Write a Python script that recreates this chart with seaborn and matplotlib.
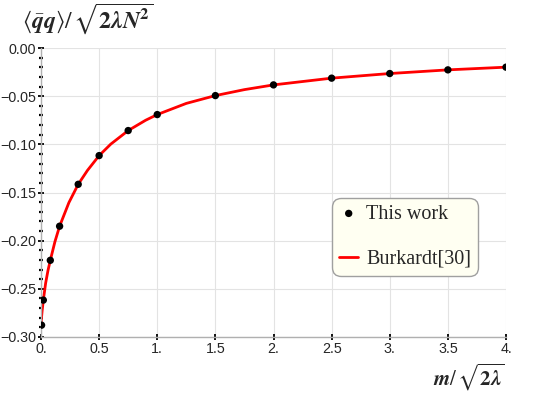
import numpy as np
import pandas as pd
import matplotlib
matplotlib.use("Agg")
import matplotlib.pyplot as plt
import seaborn as sns
from matplotlib.ticker import MultipleLocator

sns.set_style("white")
plt.rcParams['font.family'] = ['Liberation Sans', 'DejaVu Sans']
plt.rcParams['mathtext.fontset'] = 'stix'

# data points (This work)
m_pts = [0.005, 0.02, 0.08, 0.16, 0.32, 0.5, 0.75, 1.0, 1.5, 2.0, 2.5, 3.0, 3.5, 4.0]
qq_pts = [-0.2877, -0.2617, -0.2204, -0.1850, -0.1415, -0.1117, -0.0857, -0.0691,
          -0.0494, -0.0383, -0.0313, -0.0265, -0.0227, -0.0199]

# Burkardt curve
m_curve = [0.0, 0.002, 0.005, 0.01, 0.02, 0.04, 0.06, 0.08, 0.12, 0.16, 0.24, 0.32, 0.4,
           0.5, 0.6, 0.75, 0.9, 1.0, 1.25, 1.5, 1.75, 2.0, 2.5, 3.0, 3.5, 4.0]
qq_curve = [-0.2887, -0.2835, -0.2790, -0.2725, -0.2617, -0.2440, -0.2310, -0.2204, -0.2010,
            -0.1850, -0.1605, -0.1415, -0.1270, -0.1117, -0.0998, -0.0857, -0.0750, -0.0691,
            -0.0575, -0.0494, -0.0432, -0.0383, -0.0313, -0.0265, -0.0227, -0.0199]

xticks = [0, 0.5, 1, 1.5, 2, 2.5, 3, 3.5, 4]
xlabels = ['0.', '0.5', '1.', '1.5', '2.', '2.5', '3.', '3.5', '4.']
yticks = [-0.30, -0.25, -0.20, -0.15, -0.10, -0.05, 0.00]
ylabels = ['\u22120.30', '\u22120.25', '\u22120.20', '\u22120.15', '\u22120.10', '\u22120.05', '0.00']

pts = pd.DataFrame({'m': m_pts, 'qq': qq_pts})
crv = pd.DataFrame({'m': m_curve, 'qq': qq_curve})

fig = plt.figure(figsize=(5.4, 3.96), dpi=100)
ax = fig.add_axes([41/540, 1-337/396, 465/540, 289/396])

sns.lineplot(data=crv, x='m', y='qq', ax=ax, color='red', lw=2, label='Burkardt[30]', zorder=2)
sns.scatterplot(data=pts, x='m', y='qq', ax=ax, color='black', s=28, edgecolor='none',
                label='This work', zorder=3)

ax.set_xlim(0, 4)
ax.set_ylim(-0.30, 0.0)
ax.set_xticks(xticks)
ax.set_xticklabels(xlabels)
ax.set_yticks(yticks)
ax.set_yticklabels(ylabels)
ax.yaxis.set_minor_locator(MultipleLocator(0.01))
ax.grid(True, color='#e3e3e3', lw=0.8)
ax.set_axisbelow(True)
ax.set_xlabel('')
ax.set_ylabel('')

for s in ['top', 'right']:
    ax.spines[s].set_visible(False)
for s in ['left', 'bottom']:
    ax.spines[s].set_color('#b0b0b0')
    ax.spines[s].set_linewidth(1)

ax.tick_params(axis='both', which='major', direction='inout', length=4, width=1.3,
               color='black', labelsize=10.3, pad=1.5, left=True, bottom=True)
ax.tick_params(axis='y', which='minor', direction='inout', length=2.5, width=1.6,
               color='black', left=True)

h, l = ax.get_legend_handles_labels()
order = [1, 0]
leg = ax.legend([h[i] for i in order], [l[i] for i in order], loc='lower left',
                bbox_to_anchor=(0.626, 0.211), prop={'family': 'Liberation Serif', 'size': 14.5},
                labelspacing=1.3, handlelength=0.95, handletextpad=0.4, borderpad=0.35,
                borderaxespad=0, fancybox=True, framealpha=1, facecolor='#fffff2',
                edgecolor='#a0a0a0')
leg.get_frame().set_linewidth(1)
leg.get_frame().set_boxstyle('round', pad=0, rounding_size=0.45)

fig.text(22/540, 1-19/396,
         r'$\langle\bar{\mathbfit{q}}\mathbfit{q}\rangle/\,\sqrt{\mathbf{2}\mathbfit{\lambda N}^{\mathbf{2}}}$',
         fontsize=17, va='center', ha='left')
fig.text(505/540, 1-377/396, r'$\mathbfit{m}/\,\sqrt{\mathbf{2}\mathbfit{\lambda}}$',
         fontsize=15, va='center', ha='right')

fig.savefig('out.png', dpi=100)
